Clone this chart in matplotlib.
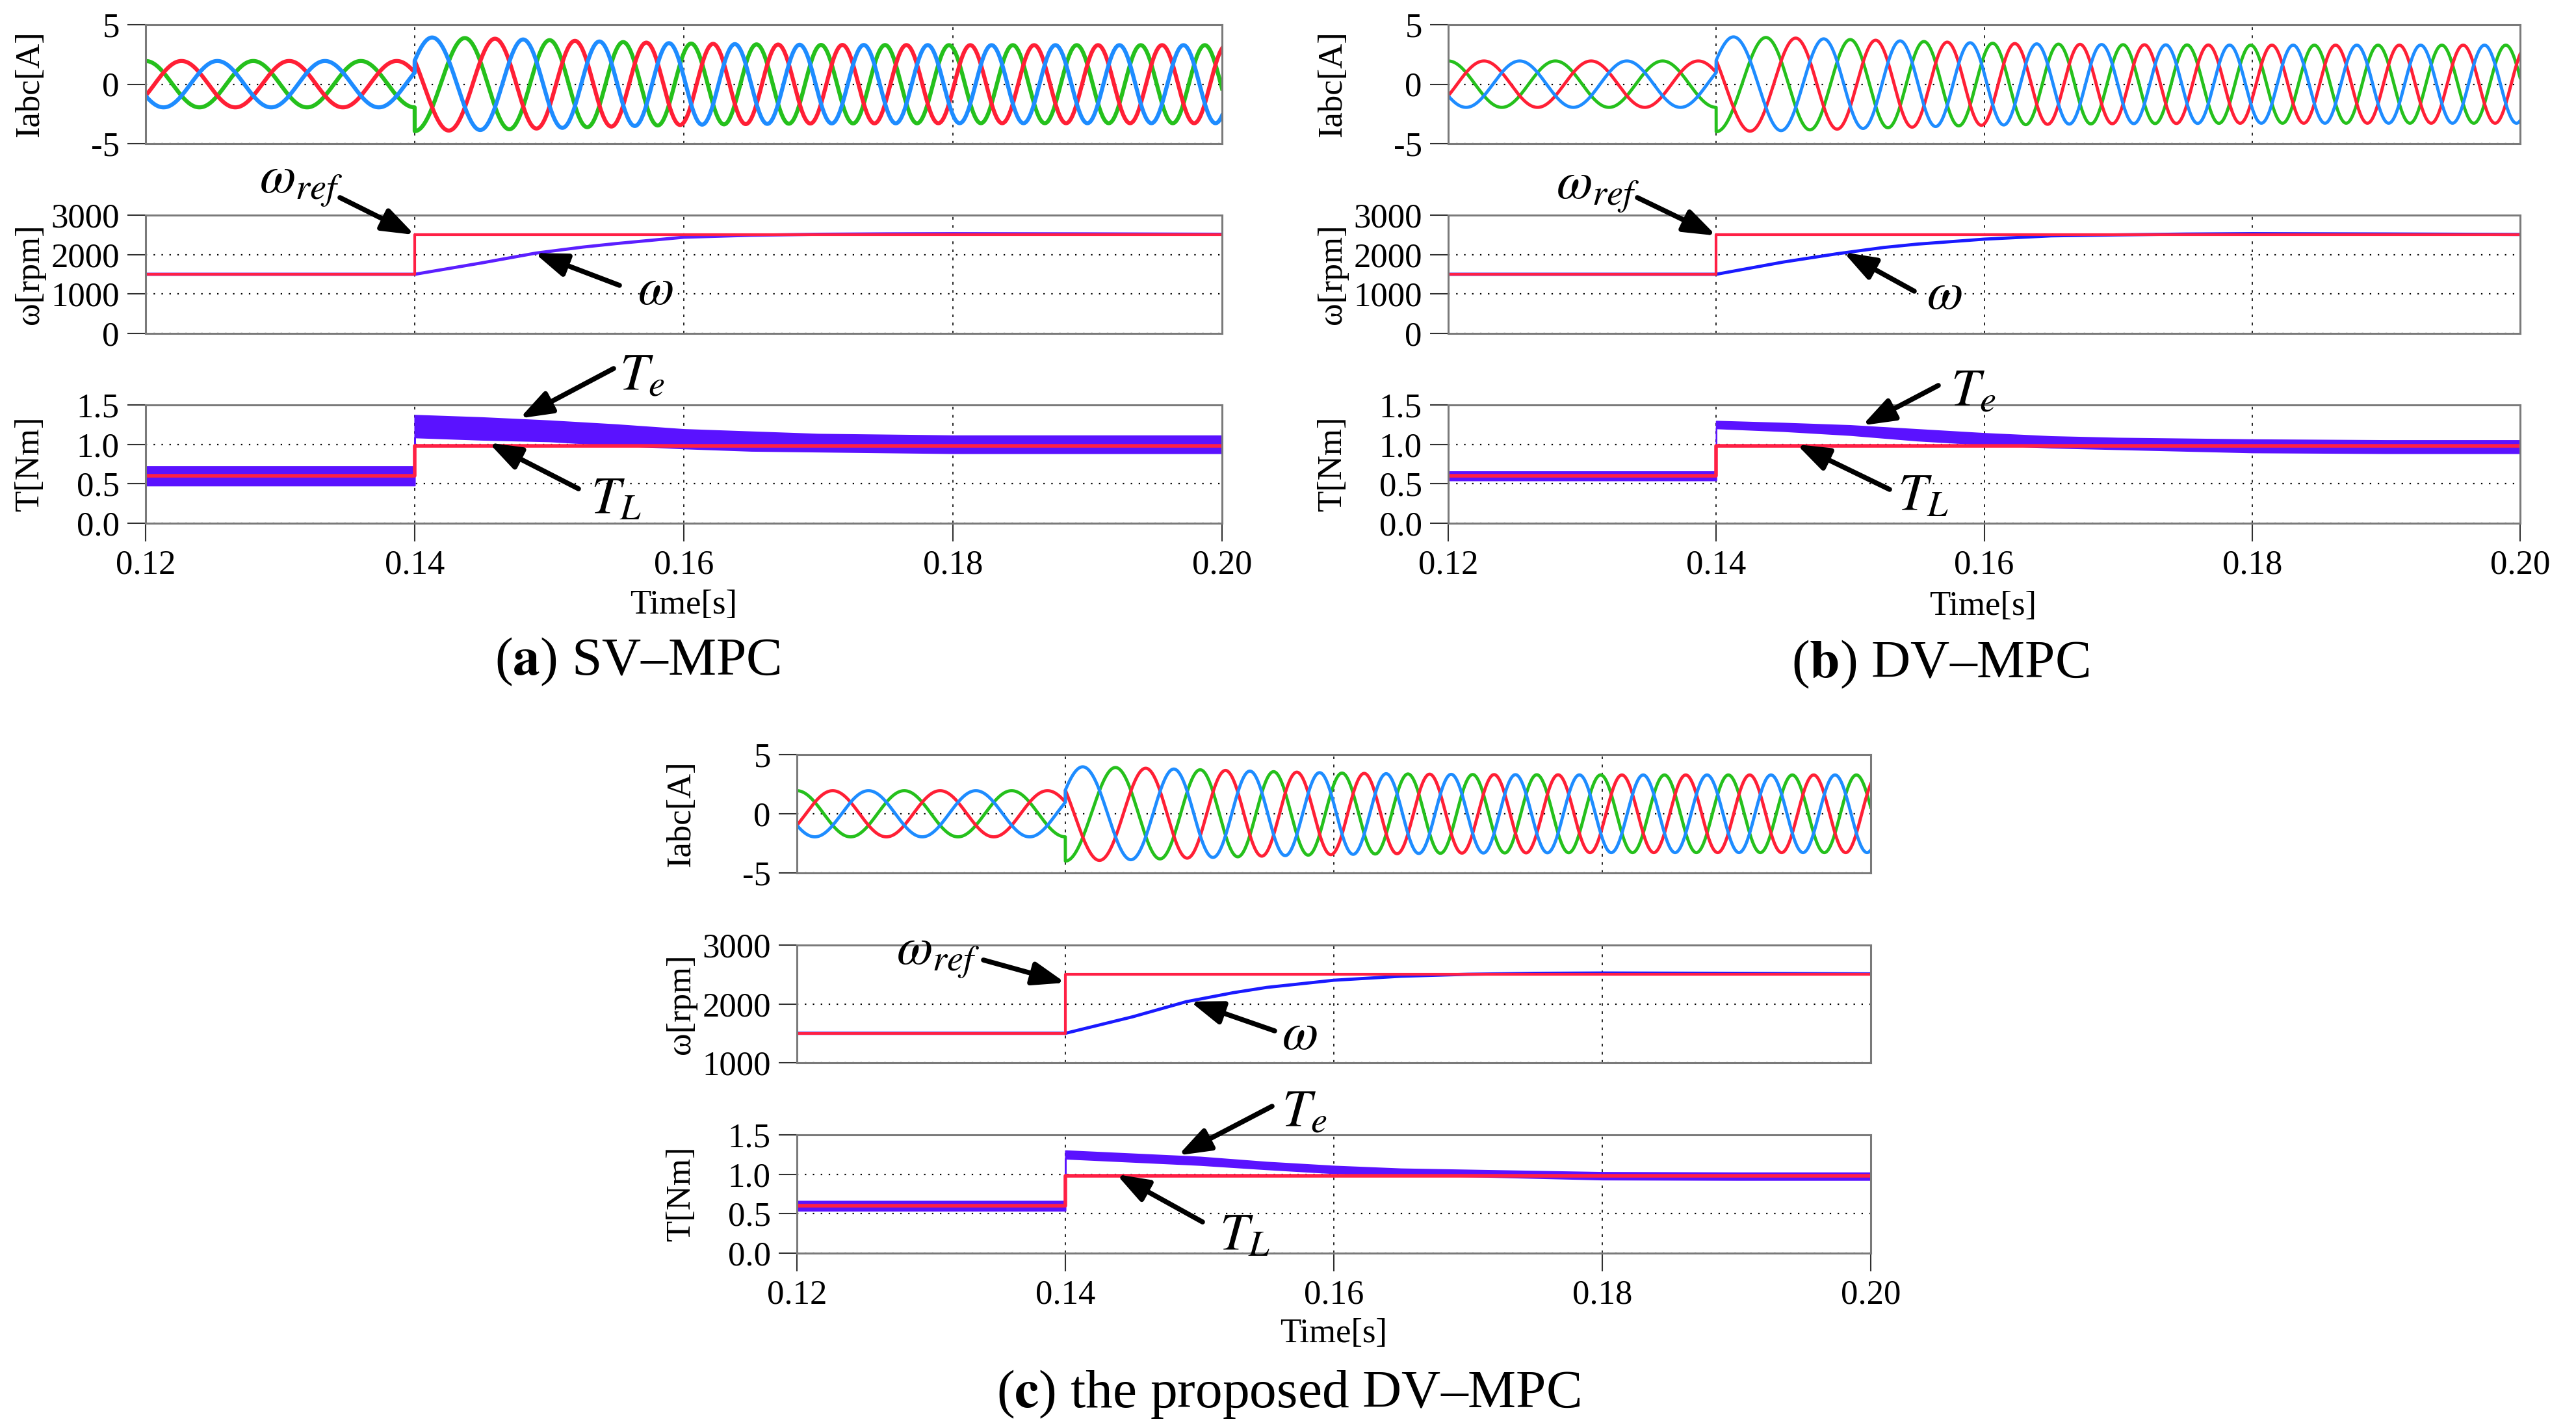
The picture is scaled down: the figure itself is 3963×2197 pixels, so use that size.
import numpy as np
import matplotlib
matplotlib.use("Agg")
import matplotlib.pyplot as plt

plt.rcParams["font.family"] = ["Liberation Serif", "DejaVu Serif"]
plt.rcParams["mathtext.fontset"] = "stix"
plt.rcParams["axes.unicode_minus"] = False

W, H = 3963, 2197

# ---- data ----
POLE_PAIRS = 5          # 1500 rpm -> 125 Hz in the phase currents
THETA0_DEG = -30.0      # electrical angle of phase a at t = 0.12 s

# envelope sample times (the load step at 0.14 s appears twice)
t_env = [0.12, 0.14, 0.14, 0.145, 0.15, 0.155, 0.16, 0.165, 0.17, 0.18, 0.19, 0.20]

amp_sv = [1.95, 1.95, 3.95, 3.85, 3.70, 3.55, 3.42, 3.35, 3.30, 3.28, 3.28, 3.28]
amp_dv = [1.95, 1.95, 4.00, 3.90, 3.75, 3.60, 3.45, 3.37, 3.32, 3.28, 3.28, 3.28]
amp_pr = [1.95, 1.95, 4.00, 3.88, 3.72, 3.57, 3.45, 3.37, 3.32, 3.28, 3.28, 3.28]

te_sv = [0.60, 0.60, 1.23, 1.20, 1.17, 1.12, 1.07, 1.04, 1.02, 1.00, 1.00, 1.00]
te_sv_rip = [0.12, 0.12, 0.14, 0.14, 0.13, 0.13, 0.12, 0.12, 0.11, 0.11, 0.11, 0.11]
te_dv = [0.60, 0.60, 1.25, 1.22, 1.18, 1.12, 1.07, 1.03, 1.01, 0.98, 0.97, 0.97]
te_dv_rip = [0.055, 0.055, 0.045, 0.05, 0.06, 0.07, 0.07, 0.07, 0.07, 0.08, 0.08, 0.08]
te_pr = [0.60, 0.60, 1.25, 1.21, 1.17, 1.11, 1.06, 1.03, 1.015, 0.98, 0.975, 0.975]
te_pr_rip = [0.06, 0.06, 0.05, 0.05, 0.05, 0.045, 0.045, 0.04, 0.04, 0.045, 0.045, 0.045]

t_speed = [0.12, 0.14, 0.145, 0.149, 0.1525, 0.155, 0.16, 0.165, 0.17, 0.175, 0.18, 0.19, 0.20]
w_sv = [1500, 1500, 1790, 2037, 2190, 2280, 2440, 2490, 2515, 2525, 2530, 2525, 2515]
w_dv = [1500, 1500, 1810, 2020, 2180, 2265, 2391, 2475, 2500, 2520, 2530, 2522, 2510]
w_pr = [1500, 1500, 1780, 2037, 2190, 2280, 2402, 2470, 2503, 2520, 2525, 2520, 2510]

t_step = [0.12, 0.14, 0.14, 0.20]
w_ref = [1500, 1500, 2500, 2500]
t_load = [0.60, 0.60, 0.98, 0.98]

time_ticks = [0.12, 0.14, 0.16, 0.18, 0.20]
time_labels = ["0.12", "0.14", "0.16", "0.18", "0.20"]
cur_ticks = [-5, 0, 5]
cur_labels = ["-5", "0", "5"]
torque_ticks = [0.0, 0.5, 1.0, 1.5]
torque_labels = ["0.0", "0.5", "1.0", "1.5"]

RED = "#ff1f35"
GREEN = "#25c01c"
BLUE = "#1e8cff"
REF = "#ff2045"
TE = "#5a12ff"

TICK_FS = 38
ANN_FS = 58
CAP_FS = 60

# panel boxes in image pixels: x0, x1, (top, bottom) of the three axes
panels = [
    dict(x=(224, 1880), rows=[(38, 221), (331, 513), (623, 805)],
         amp=amp_sv, te=te_sv, rip=te_sv_rip, w=w_sv, wcol="#5b1fff", curlw=4.5,
         speed_ticks=[0, 1000, 2000, 3000], time_xy=(1052, 931), cap_xy=(981, 1018), cap="a", name="SV–MPC",
         ann=[("$\\omega_{ref}$", 1, (0.14, 2500), (523, 304), (399, 296)),
              ("$\\omega$", 1, (0.1489, 2040), (953, 439), (981, 468)),
              ("$T_e$", 2, (0.1478, 1.33), (944, 567), (953, 600)),
              ("$T_L$", 2, (0.1455, 1.02), (890, 752), (909, 789))]),
    dict(x=(2228, 3877), rows=[(38, 221), (331, 513), (623, 805)],
         amp=amp_dv, te=te_dv, rip=te_dv_rip, w=w_dv, wcol="#1a1aff", curlw=3.5,
         speed_ticks=[0, 1000, 2000, 3000], time_xy=(3051, 933), cap_xy=(2985, 1022), cap="b", name="DV–MPC",
         ann=[("$\\omega_{ref}$", 1, (0.14, 2480), (2519, 304), (2394, 305)),
              ("$\\omega$", 1, (0.1495, 2060), (2945, 448), (2964, 475)),
              ("$T_e$", 2, (0.1509, 1.24), (2982, 593), (3001, 624)),
              ("$T_L$", 2, (0.146, 1.00), (2907, 753), (2920, 784))]),
    dict(x=(1226, 2878), rows=[(1161, 1343), (1454, 1635), (1746, 1928)],
         amp=amp_pr, te=te_pr, rip=te_pr_rip, w=w_pr, wcol="#1a1aff", curlw=3.5,
         speed_ticks=[1000, 2000, 3000], time_xy=(2052, 2052), cap_xy=(1982, 2145), cap="c",
         name="the proposed DV–MPC",
         ann=[("$\\omega_{ref}$", 1, (0.14, 2360), (1513, 1477), (1379, 1483)),
              ("$\\omega$", 1, (0.1493, 2040), (1961, 1586), (1972, 1614)),
              ("$T_e$", 2, (0.1484, 1.24), (1957, 1702), (1972, 1733)),
              ("$T_L$", 2, (0.1438, 1.00), (1850, 1880), (1876, 1922))]),
]


def rect(x0, x1, top, bottom):
    return [x0 / W, 1 - bottom / H, (x1 - x0) / W, (bottom - top) / H]


def style(ax, ticks, labels, ylim, bottom_axis):
    ax.set_xlim(0.12, 0.20)
    ax.set_ylim(*ylim)
    ax.set_xticks(time_ticks)
    ax.set_yticks(ticks)
    ax.set_yticklabels(labels)
    for s in ax.spines.values():
        s.set_color("#7a7a7a")
        s.set_linewidth(2.2)
    ax.tick_params(axis="y", direction="out", length=20, width=1.5, color="#303030",
                   labelsize=TICK_FS, pad=9)
    if bottom_axis:
        ax.set_xticklabels(time_labels)
        ax.tick_params(axis="x", direction="out", length=20, width=1.5, color="#303030",
                       labelsize=TICK_FS, pad=9)
    else:
        ax.tick_params(axis="x", length=0, labelbottom=False)
    ax.set_axisbelow(True)
    ax.yaxis.grid(True, color="k", linestyle=(0, (1, 4.5)), linewidth=1.6)
    ax.xaxis.grid(True, color="k", linestyle=(0, (2.5, 5)), linewidth=1.2)


fig = plt.figure(figsize=(W / 100, H / 100), dpi=100)

t = np.linspace(0.12, 0.20, 20001)
dt = t[1] - t[0]

for p in panels:
    x0, x1 = p["x"]
    axes = [fig.add_axes(rect(x0, x1, *r)) for r in p["rows"]]
    ax_i, ax_w, ax_t = axes

    # phase currents follow the rotor speed (electrical angle = p * mechanical)
    w_t = np.interp(t, t_speed, p["w"])
    theta = np.deg2rad(THETA0_DEG) + 2 * np.pi * POLE_PAIRS / 60 * np.concatenate(
        [[0.0], np.cumsum((w_t[1:] + w_t[:-1]) / 2 * dt)])
    amp = np.interp(t, t_env, p["amp"])
    ax_i.plot(t, amp * np.sin(theta + 2 * np.pi / 3), color=GREEN, lw=p["curlw"])
    ax_i.plot(t, amp * np.sin(theta), color=RED, lw=p["curlw"])
    ax_i.plot(t, amp * np.sin(theta - 2 * np.pi / 3), color=BLUE, lw=p["curlw"])
    style(ax_i, cur_ticks, cur_labels, (-5, 5), False)
    ax_i.set_ylabel("Iabc[A]", fontsize=TICK_FS, va="center")

    ax_w.plot(t_speed, p["w"], color=p["wcol"], lw=3.5)
    ax_w.plot(t_step, w_ref, color=REF, lw=3)
    sp = p["speed_ticks"]
    style(ax_w, sp, [str(v) for v in sp], (sp[0], sp[-1]), False)
    ax_w.set_ylabel("ω[rpm]", fontsize=TICK_FS, va="center")

    te = np.array(p["te"])
    rip = np.array(p["rip"])
    ax_t.fill_between(t_env, te - rip, te + rip, color=TE, lw=1.5)
    ax_t.plot(t_step, t_load, color=REF, lw=4)
    style(ax_t, torque_ticks, torque_labels, (0, 1.5), True)
    ax_t.set_ylabel("T[Nm]", fontsize=TICK_FS, va="center")

    for ax in axes:
        ax.yaxis.set_label_coords(-178 / (x1 - x0), 0.5)

    for text, row, tip, tail, lab in p["ann"]:
        axes[row].annotate("", xy=tip, xycoords="data",
                           xytext=(tail[0], H - tail[1]), textcoords="figure pixels",
                           arrowprops=dict(arrowstyle="-|>,head_length=1.0,head_width=0.36",
                                           mutation_scale=30, lw=5.5, color="k",
                                           shrinkA=0, shrinkB=0),
                           annotation_clip=False)
        fig.text(lab[0] / W, 1 - lab[1] / H, text, fontsize=ANN_FS, ha="left", va="baseline")

    fig.text(p["time_xy"][0] / W, 1 - p["time_xy"][1] / H, "Time[s]",
             fontsize=TICK_FS, ha="center", va="center")
    fig.text(p["cap_xy"][0] / W, 1 - p["cap_xy"][1] / H,
             "($\\mathbf{%s}$) %s" % (p["cap"], p["name"]),
             fontsize=CAP_FS, ha="center", va="center")

fig.savefig("out.png", dpi=100)
